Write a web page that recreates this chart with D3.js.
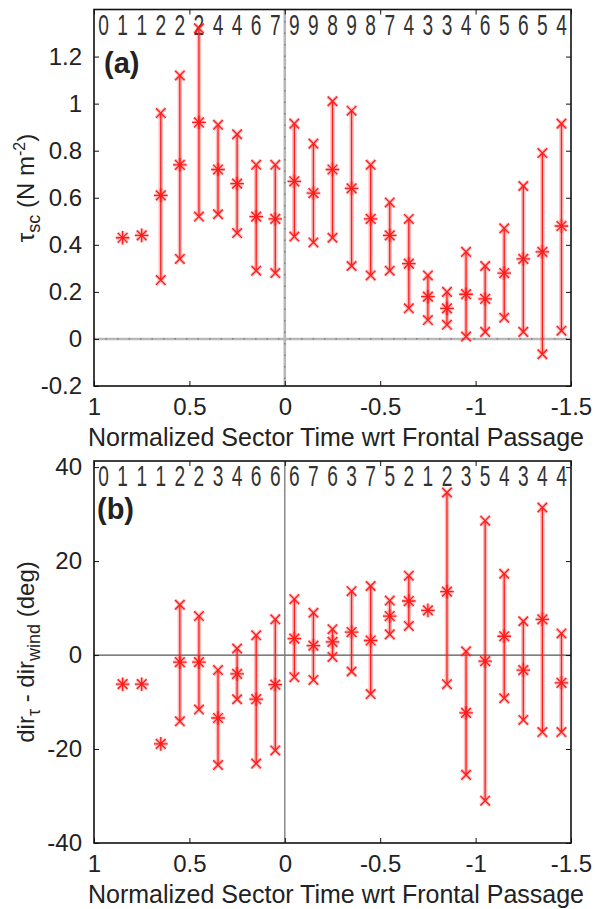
<!DOCTYPE html>
<html>
<head>
<meta charset="utf-8">
<script src="https://cdn.jsdelivr.net/npm/d3@7"></script>
<style>
  body { margin: 0; background: #fff; }
  svg { display: block; font-family: "Liberation Sans", Arial, sans-serif; }
</style>
</head>
<body>
<div id="chart"></div>
<script>
// bin centres (normalized sector time), one per sector
const binCenters = [0.95, 0.85, 0.75, 0.65, 0.55, 0.45, 0.35, 0.25, 0.15, 0.05,
  -0.05, -0.15, -0.25, -0.35, -0.45, -0.55, -0.65, -0.75, -0.85, -0.95,
  -1.05, -1.15, -1.25, -1.35, -1.45];
const xTicks = [1, 0.5, 0, -0.5, -1, -1.5];

// (a) stress magnitude
const countsA = [0, 1, 1, 2, 2, 2, 4, 4, 6, 7, 9, 9, 8, 9, 8, 7, 4, 3, 3, 4, 6, 5, 6, 5, 4];
const meanA = [null, 0.43, 0.44, 0.61, 0.74, 0.92, 0.72, 0.66, 0.52, 0.51,
  0.67, 0.62, 0.72, 0.64, 0.51, 0.44, 0.32, 0.18, 0.13, 0.19, 0.17, 0.28, 0.34, 0.37, 0.48];
const hiA = [null, null, null, 0.96, 1.12, 1.32, 0.91, 0.87, 0.74, 0.74,
  0.915, 0.83, 1.01, 0.97, 0.74, 0.58, 0.51, 0.27, 0.20, 0.37, 0.31, 0.47, 0.65, 0.79, 0.915];
const loA = [null, null, null, 0.25, 0.34, 0.52, 0.53, 0.45, 0.29, 0.28,
  0.435, 0.41, 0.43, 0.31, 0.27, 0.29, 0.13, 0.08, 0.06, 0.01, 0.03, 0.09, 0.03, -0.065, 0.035];
const yTicksA = [-0.2, 0, 0.2, 0.4, 0.6, 0.8, 1, 1.2];

// (b) direction difference
const countsB = [0, 1, 1, 1, 2, 2, 3, 4, 6, 6, 6, 7, 6, 3, 7, 5, 2, 1, 2, 3, 5, 4, 3, 4, 4];
const meanB = [null, -6.2, -6.2, -18.9, -1.5, -1.5, -13.4, -4.0, -9.4, -6.3,
  3.5, 2.0, 2.8, 4.9, 3.1, 8.3, 11.5, 9.5, 13.5, -12.3, -1.3, 4.0, -3.2, 7.6, -5.9];
const hiB = [null, null, null, null, 10.7, 8.3, -3.2, 1.4, 4.2, 7.6,
  11.9, 9.0, 5.5, 13.6, 14.7, 11.6, 16.9, null, 34.6, 0.8, 28.6, 17.3, 7.2, 31.4, 4.6];
const loB = [null, null, null, null, -14.1, -11.6, -23.4, -9.4, -23.1, -20.3,
  -4.7, -5.3, -0.4, -3.5, -8.3, 4.4, 6.2, null, -6.2, -25.5, -31.0, -9.2, -13.8, -16.4, -16.4];
const yTicksB = [-40, -20, 0, 20, 40];

const width = 595, height = 909;
const svg = d3.select("#chart").append("svg")
    .attr("width", width)
    .attr("height", height);

const x = d3.scaleLinear().domain([1, -1.5]).range([94, 571]);

const xMark = s => `M${-s},${-s}L${s},${s}M${-s},${s}L${s},${-s}`;
const starMark = s => `M${-s},0L${s},0M0,${-s}L0,${s}` + xMark(s * 0.72);

function drawPanel({ top, bottom, yDomain, yTicks, counts, means, his, los, letter, letterX, letterY, dottedZero, ylabel, ylabelY }) {
    const y = d3.scaleLinear().domain(yDomain).range([bottom, top]);
    const g = svg.append("g");

    // zero lines
    if (dottedZero) {
        [[x.range()[0], y(0), x.range()[1], y(0)], [x(0), top, x(0), bottom]].forEach(l => {
            g.append("line").attr("x1", l[0]).attr("y1", l[1]).attr("x2", l[2]).attr("y2", l[3])
                .attr("stroke", "#b8b8b8").attr("stroke-width", 2.6);
            g.append("line").attr("x1", l[0]).attr("y1", l[1]).attr("x2", l[2]).attr("y2", l[3])
                .attr("stroke", "#777").attr("stroke-width", 1.2).attr("stroke-dasharray", "1.5,10");
        });
    } else {
        g.append("line").attr("x1", x.range()[0]).attr("x2", x.range()[1])
            .attr("y1", y(0)).attr("y2", y(0)).attr("stroke", "#555").attr("stroke-width", 1.3);
        g.append("line").attr("x1", x(0)).attr("x2", x(0))
            .attr("y1", top).attr("y2", bottom).attr("stroke", "#777").attr("stroke-width", 1.3);
    }

    // box and ticks
    g.append("rect").attr("x", x.range()[0]).attr("y", top)
        .attr("width", x.range()[1] - x.range()[0]).attr("height", bottom - top)
        .attr("fill", "none").attr("stroke", "#111").attr("stroke-width", 1.6);

    const bottomAxis = d3.axisBottom(x).tickValues(xTicks).tickSizeInner(-5).tickSizeOuter(0)
        .tickPadding(12).tickFormat(d3.format("~g"));
    const ax = g.append("g").attr("transform", `translate(0,${bottom})`).call(bottomAxis);
    ax.select(".domain").remove();
    ax.selectAll("line").attr("stroke", "#111");
    ax.selectAll("text").attr("font-size", 24).attr("fill", "#222")
        .attr("font-family", "Liberation Sans, Arial, sans-serif").text(d => String(d));

    const topAxis = d3.axisTop(x).tickValues(xTicks).tickSizeInner(-5).tickSizeOuter(0).tickFormat("");
    g.append("g").attr("transform", `translate(0,${top})`).call(topAxis)
        .call(a => a.select(".domain").remove())
        .selectAll("line").attr("stroke", "#111");

    const leftAxis = d3.axisLeft(y).tickValues(yTicks).tickSizeInner(-5).tickSizeOuter(0)
        .tickPadding(12).tickFormat(d => String(+d.toFixed(2)));
    const ay = g.append("g").attr("transform", `translate(${x.range()[0]},0)`).call(leftAxis);
    ay.select(".domain").remove();
    ay.selectAll("line").attr("stroke", "#111");
    ay.selectAll("text").attr("font-size", 24).attr("fill", "#222")
        .attr("font-family", "Liberation Sans, Arial, sans-serif");

    const rightAxis = d3.axisRight(y).tickValues(yTicks).tickSizeInner(-5).tickSizeOuter(0).tickFormat("");
    g.append("g").attr("transform", `translate(${x.range()[1]},0)`).call(rightAxis)
        .call(a => a.select(".domain").remove())
        .selectAll("line").attr("stroke", "#111");

    // sample counts along the top
    g.append("g").selectAll("text")
        .data(counts)
        .enter()
        .append("text")
        .attr("transform", (d, i) => `translate(${x(binCenters[i])},${top + 25}) scale(0.66,1)`)
        .attr("text-anchor", "middle")
        .attr("font-size", 29)
        .attr("fill", "#333")
        .text(d => d);

    // error bars
    const bars = binCenters.map((c, i) => ({ c, m: means[i], hi: his[i], lo: los[i] }))
        .filter(d => d.m !== null);

    const ranges = bars.filter(d => d.hi !== null);
    g.append("g").selectAll("line")
        .data(ranges)
        .enter()
        .append("line")
        .attr("x1", d => x(d.c)).attr("x2", d => x(d.c))
        .attr("y1", d => y(d.hi)).attr("y2", d => y(d.lo))
        .attr("stroke", "rgba(255,40,40,0.3)").attr("stroke-width", 4.5);
    g.append("g").selectAll("line")
        .data(ranges)
        .enter()
        .append("line")
        .attr("x1", d => x(d.c)).attr("x2", d => x(d.c))
        .attr("y1", d => y(d.hi)).attr("y2", d => y(d.lo))
        .attr("stroke", "#ff1a1a").attr("stroke-width", 1.3);

    const ends = ranges.flatMap(d => [{ c: d.c, v: d.hi }, { c: d.c, v: d.lo }]);
    [["rgba(255,40,40,0.3)", 3.5], ["#ff1a1a", 1.3]].forEach(([col, w]) => {
        g.append("g").selectAll("path")
            .data(ends)
            .enter()
            .append("path")
            .attr("transform", d => `translate(${x(d.c)},${y(d.v)})`)
            .attr("d", xMark(4.8))
            .attr("fill", "none").attr("stroke", col).attr("stroke-width", w);
        g.append("g").selectAll("path")
            .data(bars)
            .enter()
            .append("path")
            .attr("transform", d => `translate(${x(d.c)},${y(d.m)})`)
            .attr("d", starMark(6.8))
            .attr("fill", "none").attr("stroke", col).attr("stroke-width", w);
    });

    // panel letter
    g.append("text").attr("x", letterX).attr("y", letterY)
        .attr("font-size", 29).attr("font-weight", "bold").attr("fill", "#222")
        .text(letter);

    // y label
    const yl = g.append("text")
        .attr("transform", `translate(34,${ylabelY}) rotate(-90)`)
        .attr("text-anchor", "middle")
        .attr("font-size", 24)
        .attr("fill", "#222");
    ylabel(yl);

    // x label
    g.append("text")
        .attr("x", 336)
        .attr("y", bottom + 60)
        .attr("text-anchor", "middle")
        .attr("font-size", 25)
        .attr("fill", "#222")
        .text("Normalized Sector Time wrt Frontal Passage");
}

drawPanel({
    top: 9.5, bottom: 386, yDomain: [-0.2, 1.4], yTicks: yTicksA,
    counts: countsA, means: meanA, his: hiA, los: loA,
    letter: "(a)", letterX: 104, letterY: 73, dottedZero: true, ylabelY: 188,
    ylabel: t => {
        t.append("tspan").text("τ");
        t.append("tspan").attr("font-size", 18).attr("dy", 6).text("sc");
        t.append("tspan").attr("dy", -6).text(" (N m");
        t.append("tspan").attr("font-size", 16).attr("dy", -9).text("-2");
        t.append("tspan").attr("dy", 9).text(")");
    }
});

drawPanel({
    top: 461, bottom: 843, yDomain: [-40, 41.3], yTicks: yTicksB,
    counts: countsB, means: meanB, his: hiB, los: loB,
    letter: "(b)", letterX: 97, letterY: 519, dottedZero: false, ylabelY: 652,
    ylabel: t => {
        t.append("tspan").text("dir");
        t.append("tspan").attr("font-size", 18).attr("dy", 6).text("τ");
        t.append("tspan").attr("dy", -6).text(" - dir");
        t.append("tspan").attr("font-size", 18).attr("dy", 6).text("wind");
        t.append("tspan").attr("dy", -6).text(" (deg)");
    }
});
</script>
</body>
</html>
